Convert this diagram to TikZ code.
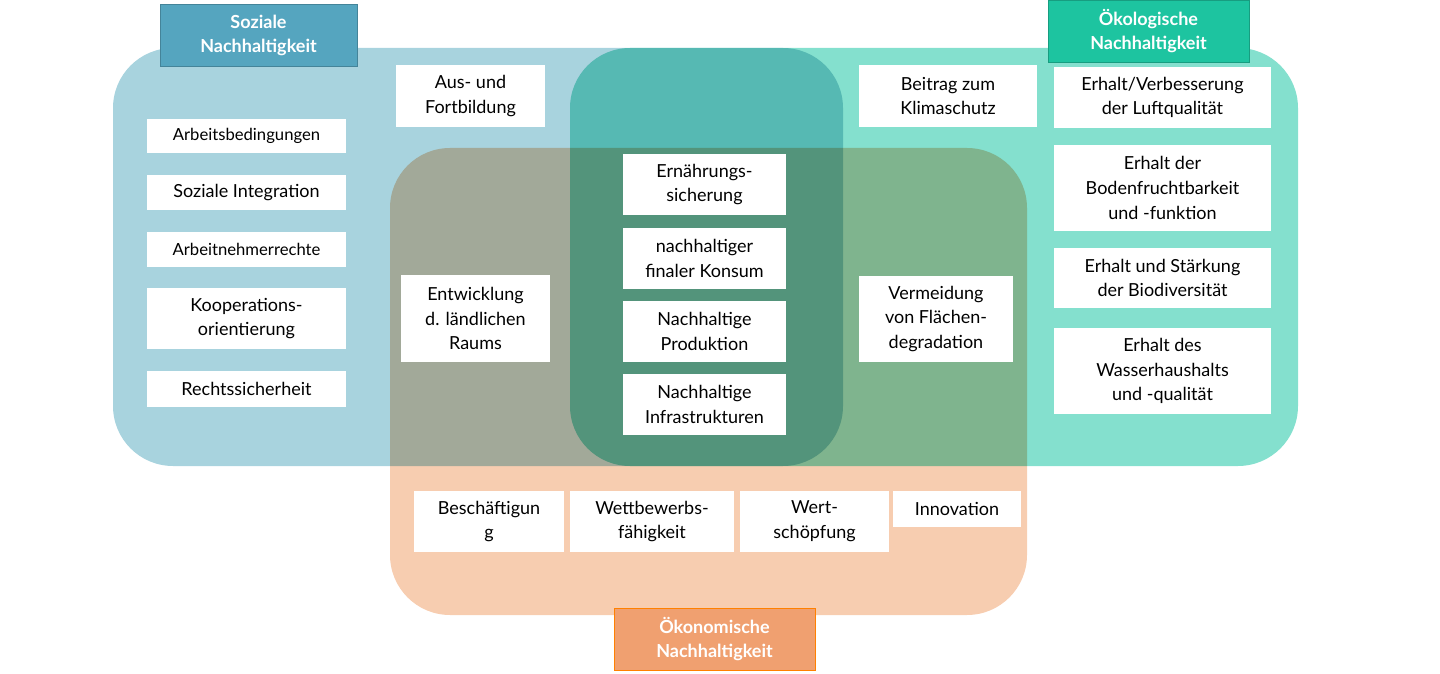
\documentclass[tikz,border=0pt]{standalone}
\usepackage{fontspec}
\setmainfont{Lato}
\definecolor{cblue}{HTML}{A8D3DE}
\definecolor{cgreen}{HTML}{84E0CE}
\definecolor{corange}{HTML}{F7CDB0}
\definecolor{tblue}{HTML}{55A5BF}
\definecolor{tgreen}{HTML}{1DC4A0}
\definecolor{torange}{HTML}{F0A070}
\newcommand\bx[6]{\node[wb, minimum width={(#4-#2)*0.75pt}, minimum height={(#5-#3)*0.75pt}] (#1) at ({(#2+#4)/2},{(#3+#5)/2}) {#6};}
\newcommand\tb[7]{\node[tbox, fill=#6, draw=#7, minimum width={(#4-#2)*0.75pt}, minimum height={(#5-#3)*0.75pt}] (#1) at ({(#2+#4)/2},{(#3+#5)/2}) {\textbf{Soziale}};}
\begin{document}
\begin{tikzpicture}[x=0.75pt,y=-0.75pt,
  wb/.style={fill=white, inner sep=0pt, align=center, font=\fontsize{13.5}{18.5}\selectfont},
  tbox/.style={inner sep=0pt, align=center, text=white, font=\fontsize{13.5}{18}\selectfont\bfseries},
  area/.style={rounded corners=45pt, blend mode=multiply}]
\useasboundingbox (0,0) rectangle (1440,674);
\fill[area, cblue] (113,48) rectangle (843,466);
\fill[area, cgreen] (570,48) rectangle (1298,466);
\fill[area, corange] (390,148) rectangle (1027,615);
\node[tbox, fill=tblue, draw=tblue!80!black, minimum width=147.75pt, minimum height=46.5pt] (ts) at (258.5,35) {Soziale\\Nachhaltigkeit};
\node[tbox, fill=tgreen, draw=tgreen!80!black, minimum width=150.75pt, minimum height=46.5pt] (tg) at (1148.5,31) {Ökologische\\Nachhaltigkeit};
\node[tbox, fill=torange, draw=orange, minimum width=150.75pt, minimum height=46.5pt] (to) at (714.5,639) {Ökonomische\\Nachhaltigkeit};
\bx{a1}{396}{65}{545}{127}{Aus- und\\Fortbildung}
\bx{s1}{147}{119}{346}{153}{\fontsize{12.5}{16}\selectfont Arbeitsbedingungen}
\bx{s2}{147}{175}{346}{210}{Soziale Integration}
\bx{s3}{147}{232}{346}{267}{\fontsize{12.5}{16}\selectfont Arbeitnehmerrechte}
\bx{s4}{147}{288}{346}{349}{Kooperations-\\orientierung}
\bx{s5}{147}{371}{346}{407}{Rechtssicherheit}
\bx{e1}{401}{275}{550}{362}{Entwicklung\\d. ländlichen\\Raums}
\bx{c1}{623}{154}{786}{215}{Ernährungs-\\sicherung}
\bx{c2}{623}{228}{786}{289}{nachhaltiger\\finaler Konsum}
\bx{c3}{623}{301}{786}{362}{Nachhaltige\\Produktion}
\bx{c4}{623}{374}{786}{435}{Nachhaltige\\Infrastrukturen}
\bx{g1}{859}{65}{1037}{127}{Beitrag zum\\Klimaschutz}
\bx{g2}{859}{276}{1013}{362}{Vermeidung\\von Flächen-\\degradation}
\bx{g3}{1054}{67}{1271}{128}{Erhalt/Verbesserung\\der Luftqualität}
\bx{g4}{1054}{145}{1271}{231}{Erhalt der\\Bodenfruchtbarkeit\\und -funktion}
\bx{g5}{1054}{248}{1271}{308}{Erhalt und Stärkung\\der Biodiversität}
\bx{g6}{1054}{328}{1271}{414}{Erhalt des\\Wasserhaushalts\\und -qualität}
\bx{o1}{414}{491}{564}{552}{Beschäftigun\\g}
\bx{o2}{570}{491}{734}{552}{Wettbewerbs-\\fähigkeit}
\bx{o3}{740}{491}{889}{552}{Wert-\\schöpfung}
\bx{o4}{893}{491}{1021}{527}{Innovation}
\end{tikzpicture}
\end{document}
